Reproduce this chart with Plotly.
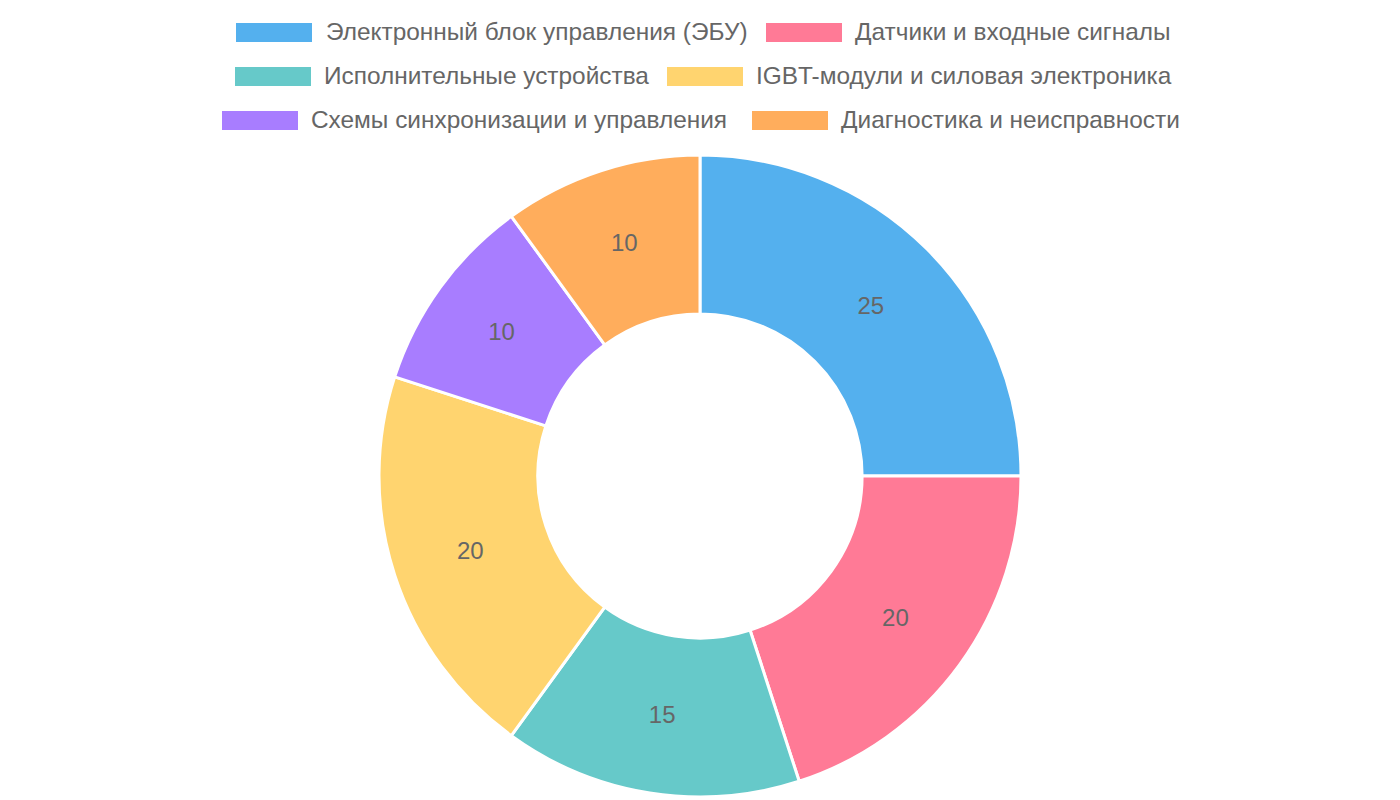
import plotly.graph_objects as go

labels = [
    "Электронный блок управления (ЭБУ)",
    "Датчики и входные сигналы",
    "Исполнительные устройства",
    "IGBT-модули и силовая электроника",
    "Схемы синхронизации и управления",
    "Диагностика и неисправности",
]
values = [25, 20, 15, 20, 10, 10]
colors = [
    "rgba(54,162,235,0.85)",
    "rgba(255,99,132,0.85)",
    "rgba(75,192,192,0.85)",
    "rgba(255,205,86,0.85)",
    "rgba(153,102,255,0.85)",
    "rgba(255,159,64,0.85)",
]

W, H = 1400, 800
OFF = 8  # page body margin pushes the plot 8px right/down
FONT = "Liberation Sans, Arial, sans-serif"

fig = go.Figure()
fig.add_trace(go.Pie(
    labels=labels, values=values, sort=False, direction="clockwise", rotation=0,
    hole=0.505,
    marker=dict(colors=colors, line=dict(color="white", width=3)),
    textinfo="value", textposition="inside", insidetextorientation="horizontal",
    textfont=dict(size=24, color="#666666", family=FONT),
    domain=dict(x=[0, (W - 2 * OFF) / W],
                y=[1 - (797 - OFF) / H, 1 - (155 - OFF) / H]),
    showlegend=False, hoverinfo="label+value",
))

# legend drawn by hand, Chart.js style: 3 centered rows of 2
# (box left px, text left px, row centre px) in page pixels
legend_pos = [
    (236, 327, 32), (766, 856, 32),
    (235, 325, 76), (667, 757, 76),
    (222, 312, 120), (752, 842, 120),
]
for lab, col, (bx, tx, cy) in zip(labels, colors, legend_pos):
    bx, tx, cy = bx - OFF, tx - OFF - 3, cy - OFF
    fig.add_shape(type="rect", xref="paper", yref="paper",
                  x0=bx / W, x1=(bx + 76) / W,
                  y0=1 - (cy + 10) / H, y1=1 - (cy - 9) / H,
                  fillcolor=col, line=dict(width=0))
    fig.add_annotation(x=tx / W, y=1 - (cy - 1) / H, xref="paper", yref="paper",
                       text=lab, showarrow=False, xanchor="left", yanchor="middle",
                       font=dict(size=24.4, color="#666666", family=FONT))

fig.update_layout(
    width=W, height=H,
    margin=dict(l=0, r=0, t=0, b=0),
    paper_bgcolor="white", plot_bgcolor="white",
    font=dict(family=FONT),
)

fig.write_html("out.html")
